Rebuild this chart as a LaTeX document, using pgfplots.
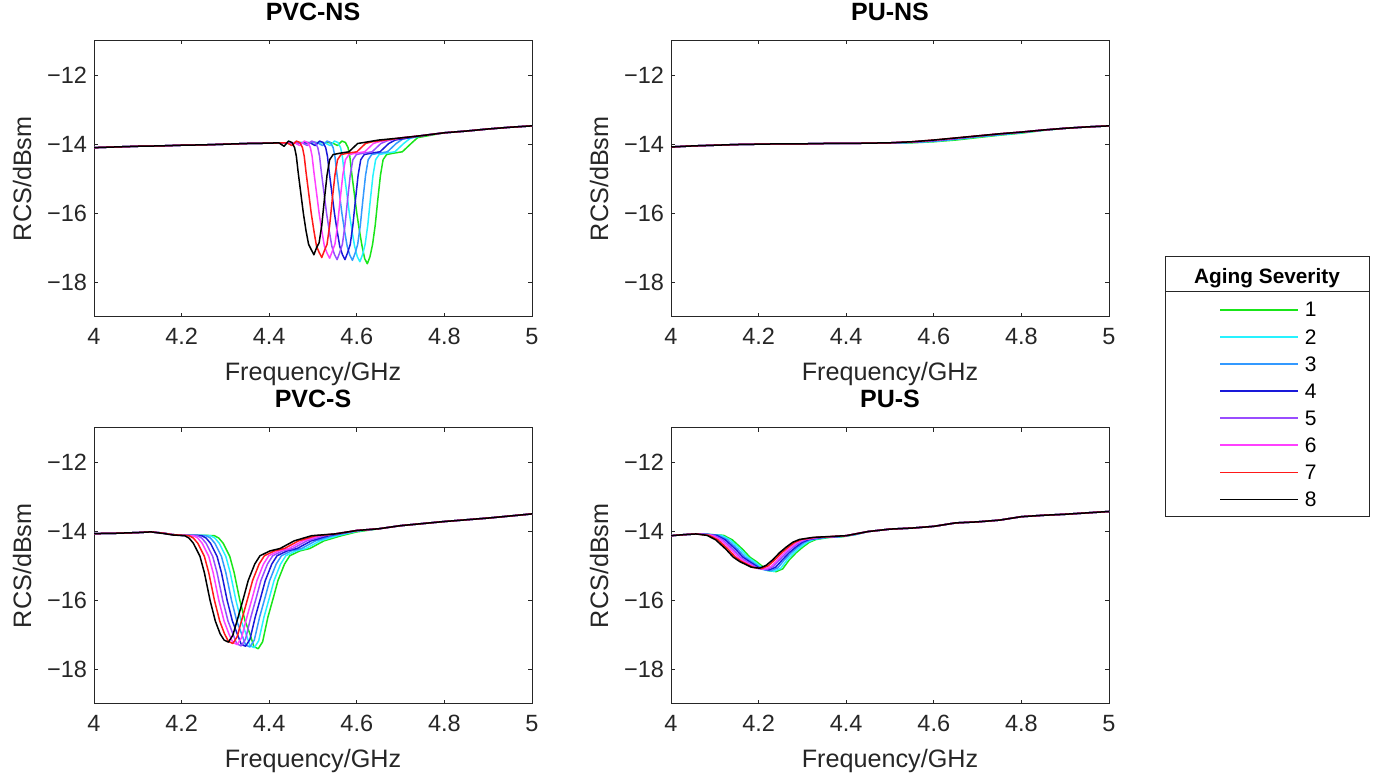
\documentclass[border=0pt]{standalone}
\usepackage{fontspec}
\setmainfont{Liberation Sans}
\usepackage{pgfplots}
\usepackage{pgfplotstable}
\pgfplotsset{compat=1.18}
\definecolor{axgray}{rgb}{0.15,0.15,0.15}
\definecolor{c1}{rgb}{0.1,0.9,0.1}
\definecolor{c2}{rgb}{0.15,0.95,1}
\definecolor{c3}{rgb}{0.2,0.6,1}
\definecolor{c4}{rgb}{0.1,0.1,0.85}
\definecolor{c5}{rgb}{0.6,0.3,1}
\definecolor{c6}{rgb}{1,0.25,1}
\definecolor{c7}{rgb}{1,0.1,0.1}
\definecolor{c8}{rgb}{0,0,0}
\pgfplotsset{
  rcs/.style={
    scale only axis, width=219pt, height=138.25pt, anchor=south west,
    xmin=4, xmax=5, ymin=-19, ymax=-11,
    xtick={4,4.2,4.4,4.6,4.8,5}, xticklabels={4,4.2,4.4,4.6,4.8,5},
    ytick={-18,-16,-14,-12}, yticklabels={−18,−16,−14,−12},
    tick align=inside, major tick length=2pt,
    axis line style={draw=axgray, line width=0.5pt},
    major tick style={draw=axgray, line width=0.5pt},
    tick label style={font=\fontsize{11.75}{14}\selectfont, text=axgray},
    xticklabel style={anchor=base, yshift=-14pt},
    xlabel={Frequency/GHz}, ylabel={RCS/dBsm},
    label style={font=\fontsize{12.6}{15}\selectfont, text=axgray},
    xlabel style={at={(axis description cs:0.5,-0.228)}, anchor=base},
    ylabel style={at={(axis description cs:-0.164,0.5)}, anchor=center},
    title style={font=\bfseries\fontsize{12.5}{15}\selectfont, at={(axis description cs:0.5,1)}, anchor=base, yshift=3.8pt},
    cycle list={{c1},{c2},{c3},{c4},{c5},{c6},{c7},{c8}},
    no markers,
    every axis plot/.append style={line width=0.75pt, line join=round},
  }
}
\pgfplotstableread{
x y1 y2 y3 y4 y5 y6 y7 y8
4.00 -14.08 -14.08 -14.08 -14.08 -14.08 -14.08 -14.08 -14.08
4.05 -14.05 -14.05 -14.05 -14.05 -14.05 -14.05 -14.05 -14.05
4.10 -14.03 -14.03 -14.03 -14.03 -14.03 -14.03 -14.03 -14.03
4.15 -14.01 -14.01 -14.01 -14.01 -14.01 -14.01 -14.01 -14.01
4.20 -14.00 -14.00 -14.00 -14.00 -14.00 -14.00 -14.00 -14.00
4.25 -13.99 -13.99 -13.99 -13.99 -13.99 -13.99 -13.99 -13.99
4.30 -13.99 -13.99 -13.99 -13.99 -13.99 -13.99 -13.99 -13.99
4.35 -13.98 -13.98 -13.98 -13.98 -13.98 -13.98 -13.98 -13.98
4.40 -13.97 -13.97 -13.98 -13.98 -13.98 -13.98 -13.98 -13.98
4.45 -13.97 -13.97 -13.97 -13.97 -13.97 -13.97 -13.97 -13.97
4.50 -13.97 -13.97 -13.96 -13.96 -13.96 -13.96 -13.96 -13.96
4.55 -13.96 -13.95 -13.95 -13.94 -13.94 -13.93 -13.93 -13.93
4.60 -13.93 -13.92 -13.91 -13.90 -13.89 -13.89 -13.88 -13.88
4.65 -13.88 -13.86 -13.85 -13.84 -13.83 -13.83 -13.82 -13.82
4.70 -13.81 -13.79 -13.78 -13.77 -13.77 -13.76 -13.76 -13.76
4.75 -13.74 -13.73 -13.72 -13.71 -13.70 -13.70 -13.70 -13.70
4.80 -13.68 -13.67 -13.66 -13.65 -13.65 -13.65 -13.65 -13.65
4.85 -13.60 -13.60 -13.59 -13.59 -13.59 -13.59 -13.59 -13.59
4.90 -13.54 -13.54 -13.54 -13.54 -13.54 -13.54 -13.54 -13.54
4.95 -13.50 -13.50 -13.50 -13.50 -13.50 -13.50 -13.50 -13.50
5.00 -13.47 -13.47 -13.47 -13.47 -13.47 -13.47 -13.47 -13.47
}\punstable
\begin{document}
\begin{tikzpicture}
\useasboundingbox (0,0) rectangle (688pt,387.5pt);
% ---------------- PVC-NS ----------------
\begin{axis}[rcs, at={(47pt,229pt)}, title={PVC-NS}]
\addplot coordinates {(4.00,-14.10)(4.05,-14.08)(4.10,-14.06)(4.15,-14.05)(4.20,-14.03)(4.25,-14.02)(4.30,-14.00)(4.35,-13.98)(4.40,-13.97)(4.45,-13.96)(4.50,-13.95)
(4.544,-13.96)(4.556,-14.04)(4.566,-13.91)(4.574,-13.95)(4.580,-14.10)(4.584,-14.35)(4.588,-14.80)(4.594,-15.40)(4.600,-16.00)(4.606,-16.50)(4.612,-16.95)(4.618,-17.31)(4.624,-17.46)(4.630,-17.26)(4.636,-16.90)(4.642,-16.35)(4.648,-15.60)(4.654,-14.90)(4.660,-14.45)(4.668,-14.30)(4.684,-14.26)(4.704,-14.22)(4.714,-14.10)(4.724,-13.98)(4.739,-13.81)
(4.80,-13.67)(4.85,-13.62)(4.90,-13.56)(4.95,-13.51)(5.00,-13.47)};
\addplot coordinates {(4.00,-14.10)(4.05,-14.08)(4.10,-14.06)(4.15,-14.05)(4.20,-14.03)(4.25,-14.02)(4.30,-14.00)(4.35,-13.98)(4.40,-13.97)(4.45,-13.96)(4.50,-13.95)
(4.527,-13.96)(4.539,-14.04)(4.549,-13.91)(4.557,-13.95)(4.563,-14.10)(4.567,-14.35)(4.571,-14.80)(4.577,-15.40)(4.583,-16.00)(4.589,-16.50)(4.595,-16.95)(4.601,-17.25)(4.607,-17.40)(4.613,-17.20)(4.619,-16.90)(4.625,-16.35)(4.631,-15.60)(4.637,-14.90)(4.643,-14.45)(4.651,-14.30)(4.667,-14.26)(4.687,-14.22)(4.697,-14.10)(4.707,-13.98)(4.722,-13.83)
(4.75,-13.75)(4.80,-13.67)(4.85,-13.62)(4.90,-13.56)(4.95,-13.51)(5.00,-13.47)};
\addplot coordinates {(4.00,-14.10)(4.05,-14.08)(4.10,-14.06)(4.15,-14.05)(4.20,-14.03)(4.25,-14.02)(4.30,-14.00)(4.35,-13.98)(4.40,-13.97)(4.45,-13.96)(4.50,-13.95)
(4.510,-13.96)(4.522,-14.04)(4.532,-13.91)(4.540,-13.95)(4.546,-14.10)(4.550,-14.35)(4.554,-14.80)(4.560,-15.40)(4.566,-16.00)(4.572,-16.50)(4.578,-16.95)(4.584,-17.21)(4.590,-17.36)(4.596,-17.16)(4.602,-16.90)(4.608,-16.35)(4.614,-15.60)(4.620,-14.90)(4.626,-14.45)(4.634,-14.30)(4.650,-14.26)(4.670,-14.22)(4.680,-14.10)(4.690,-13.98)(4.705,-13.85)
(4.75,-13.75)(4.80,-13.67)(4.85,-13.62)(4.90,-13.56)(4.95,-13.51)(5.00,-13.47)};
\addplot coordinates {(4.00,-14.10)(4.05,-14.08)(4.10,-14.06)(4.15,-14.05)(4.20,-14.03)(4.25,-14.02)(4.30,-14.00)(4.35,-13.98)(4.40,-13.97)(4.45,-13.96)
(4.493,-13.96)(4.505,-14.04)(4.515,-13.91)(4.523,-13.95)(4.529,-14.10)(4.533,-14.35)(4.537,-14.80)(4.543,-15.40)(4.549,-16.00)(4.555,-16.50)(4.561,-16.95)(4.567,-17.19)(4.573,-17.34)(4.579,-17.14)(4.585,-16.90)(4.591,-16.35)(4.597,-15.60)(4.603,-14.90)(4.609,-14.45)(4.617,-14.30)(4.633,-14.26)(4.653,-14.22)(4.663,-14.10)(4.673,-13.98)(4.688,-13.88)
(4.75,-13.75)(4.80,-13.67)(4.85,-13.62)(4.90,-13.56)(4.95,-13.51)(5.00,-13.47)};
\addplot coordinates {(4.00,-14.10)(4.05,-14.08)(4.10,-14.06)(4.15,-14.05)(4.20,-14.03)(4.25,-14.02)(4.30,-14.00)(4.35,-13.98)(4.40,-13.97)(4.45,-13.96)
(4.475,-13.96)(4.487,-14.04)(4.497,-13.91)(4.505,-13.95)(4.511,-14.10)(4.515,-14.35)(4.519,-14.80)(4.525,-15.40)(4.531,-16.00)(4.537,-16.50)(4.543,-16.95)(4.549,-17.19)(4.555,-17.34)(4.561,-17.14)(4.567,-16.90)(4.573,-16.35)(4.579,-15.60)(4.585,-14.90)(4.591,-14.45)(4.599,-14.30)(4.615,-14.26)(4.635,-14.22)(4.645,-14.10)(4.655,-13.98)(4.670,-13.90)
(4.70,-13.82)(4.75,-13.75)(4.80,-13.67)(4.85,-13.62)(4.90,-13.56)(4.95,-13.51)(5.00,-13.47)};
\addplot coordinates {(4.00,-14.10)(4.05,-14.08)(4.10,-14.06)(4.15,-14.05)(4.20,-14.03)(4.25,-14.02)(4.30,-14.00)(4.35,-13.98)(4.40,-13.97)
(4.458,-13.96)(4.470,-14.04)(4.480,-13.91)(4.488,-13.95)(4.494,-14.10)(4.498,-14.35)(4.502,-14.80)(4.508,-15.40)(4.514,-16.00)(4.520,-16.50)(4.526,-16.95)(4.532,-17.15)(4.538,-17.30)(4.544,-17.10)(4.550,-16.90)(4.556,-16.35)(4.562,-15.60)(4.568,-14.90)(4.574,-14.45)(4.582,-14.30)(4.598,-14.26)(4.618,-14.22)(4.628,-14.10)(4.638,-13.98)(4.653,-13.92)
(4.70,-13.82)(4.75,-13.75)(4.80,-13.67)(4.85,-13.62)(4.90,-13.56)(4.95,-13.51)(5.00,-13.47)};
\addplot coordinates {(4.00,-14.10)(4.05,-14.08)(4.10,-14.06)(4.15,-14.05)(4.20,-14.03)(4.25,-14.02)(4.30,-14.00)(4.35,-13.98)(4.40,-13.97)
(4.440,-13.96)(4.452,-14.04)(4.462,-13.91)(4.470,-13.95)(4.476,-14.10)(4.480,-14.35)(4.484,-14.80)(4.490,-15.40)(4.496,-16.00)(4.502,-16.50)(4.508,-16.95)(4.514,-17.13)(4.520,-17.28)(4.526,-17.08)(4.532,-16.90)(4.538,-16.35)(4.544,-15.60)(4.550,-14.90)(4.556,-14.45)(4.564,-14.30)(4.580,-14.26)(4.600,-14.22)(4.610,-14.10)(4.620,-13.98)(4.635,-13.93)
(4.70,-13.82)(4.75,-13.75)(4.80,-13.67)(4.85,-13.62)(4.90,-13.56)(4.95,-13.51)(5.00,-13.47)};
\addplot coordinates {(4.00,-14.10)(4.05,-14.08)(4.10,-14.06)(4.15,-14.05)(4.20,-14.03)(4.25,-14.02)(4.30,-14.00)(4.35,-13.98)(4.40,-13.97)
(4.422,-13.96)(4.434,-14.06)(4.444,-13.91)(4.452,-13.95)(4.458,-14.10)(4.462,-14.35)(4.466,-14.80)(4.472,-15.40)(4.478,-16.00)(4.484,-16.50)(4.490,-16.90)(4.496,-17.05)(4.502,-17.20)(4.508,-17.00)(4.514,-16.85)(4.520,-16.35)(4.526,-15.60)(4.532,-14.90)(4.538,-14.45)(4.546,-14.30)(4.562,-14.26)(4.582,-14.22)(4.592,-14.10)(4.602,-13.98)(4.617,-13.95)
(4.65,-13.88)(4.70,-13.82)(4.75,-13.75)(4.80,-13.67)(4.85,-13.62)(4.90,-13.56)(4.95,-13.51)(5.00,-13.47)};
\end{axis}
% ---------------- PU-NS ----------------
\begin{axis}[rcs, at={(335.5pt,229pt)}, title={PU-NS}]
\addplot table[x=x, y=y1] {\punstable};
\addplot table[x=x, y=y2] {\punstable};
\addplot table[x=x, y=y3] {\punstable};
\addplot table[x=x, y=y4] {\punstable};
\addplot table[x=x, y=y5] {\punstable};
\addplot table[x=x, y=y6] {\punstable};
\addplot table[x=x, y=y7] {\punstable};
\addplot table[x=x, y=y8] {\punstable};
\end{axis}
% ---------------- PVC-S ----------------
\begin{axis}[rcs, at={(47pt,35.5pt)}, title={PVC-S}]
\addplot coordinates {(4.00,-14.07)(4.05,-14.06)(4.10,-14.04)(4.13,-14.02)(4.16,-14.06)(4.18,-14.10)(4.20,-14.12)(4.25,-14.12)
(4.275,-14.13)(4.285,-14.20)(4.295,-14.35)(4.310,-14.73)(4.320,-15.20)(4.333,-16.00)(4.345,-16.60)(4.356,-16.97)(4.365,-17.34)(4.375,-17.40)(4.385,-17.20)(4.397,-16.49)(4.410,-15.90)(4.420,-15.43)(4.435,-14.95)(4.447,-14.71)(4.470,-14.57)(4.493,-14.50)(4.525,-14.28)(4.565,-14.13)
(4.60,-14.02)(4.65,-13.93)(4.70,-13.84)(4.75,-13.78)(4.80,-13.72)(4.85,-13.67)(4.90,-13.62)(4.95,-13.56)(5.00,-13.50)};
\addplot coordinates {(4.00,-14.07)(4.05,-14.06)(4.10,-14.04)(4.13,-14.02)(4.16,-14.06)(4.18,-14.10)(4.20,-14.12)(4.24,-14.12)
(4.266,-14.13)(4.276,-14.20)(4.286,-14.35)(4.301,-14.73)(4.311,-15.20)(4.324,-16.00)(4.336,-16.60)(4.347,-16.97)(4.356,-17.31)(4.366,-17.37)(4.376,-17.17)(4.388,-16.49)(4.401,-15.90)(4.411,-15.43)(4.426,-14.95)(4.438,-14.71)(4.461,-14.57)(4.484,-14.50)(4.516,-14.28)(4.556,-14.13)
(4.60,-14.00)(4.65,-13.93)(4.70,-13.84)(4.75,-13.78)(4.80,-13.72)(4.85,-13.67)(4.90,-13.62)(4.95,-13.56)(5.00,-13.50)};
\addplot coordinates {(4.00,-14.07)(4.05,-14.06)(4.10,-14.04)(4.13,-14.02)(4.16,-14.06)(4.18,-14.10)(4.20,-14.12)(4.23,-14.12)
(4.256,-14.13)(4.266,-14.20)(4.276,-14.35)(4.291,-14.73)(4.301,-15.20)(4.314,-16.00)(4.326,-16.60)(4.337,-16.97)(4.346,-17.29)(4.356,-17.35)(4.366,-17.15)(4.378,-16.49)(4.391,-15.90)(4.401,-15.43)(4.416,-14.95)(4.428,-14.71)(4.451,-14.57)(4.474,-14.50)(4.506,-14.28)(4.546,-14.13)
(4.60,-13.99)(4.65,-13.93)(4.70,-13.84)(4.75,-13.78)(4.80,-13.72)(4.85,-13.67)(4.90,-13.62)(4.95,-13.56)(5.00,-13.50)};
\addplot coordinates {(4.00,-14.07)(4.05,-14.06)(4.10,-14.04)(4.13,-14.02)(4.16,-14.06)(4.18,-14.10)(4.20,-14.12)(4.23,-14.12)
(4.246,-14.13)(4.256,-14.20)(4.266,-14.35)(4.281,-14.73)(4.291,-15.20)(4.304,-16.00)(4.316,-16.60)(4.327,-16.97)(4.336,-17.27)(4.346,-17.33)(4.356,-17.13)(4.368,-16.49)(4.381,-15.90)(4.391,-15.43)(4.406,-14.95)(4.418,-14.71)(4.441,-14.57)(4.464,-14.50)(4.496,-14.28)(4.536,-14.13)
(4.60,-13.98)(4.65,-13.93)(4.70,-13.84)(4.75,-13.78)(4.80,-13.72)(4.85,-13.67)(4.90,-13.62)(4.95,-13.56)(5.00,-13.50)};
\addplot coordinates {(4.00,-14.07)(4.05,-14.06)(4.10,-14.04)(4.13,-14.02)(4.16,-14.06)(4.18,-14.10)(4.20,-14.12)
(4.236,-14.13)(4.246,-14.20)(4.256,-14.35)(4.271,-14.73)(4.281,-15.20)(4.294,-16.00)(4.306,-16.60)(4.317,-16.97)(4.326,-17.26)(4.336,-17.32)(4.346,-17.12)(4.358,-16.49)(4.371,-15.90)(4.381,-15.43)(4.396,-14.95)(4.408,-14.71)(4.431,-14.57)(4.454,-14.50)(4.486,-14.28)(4.526,-14.13)
(4.55,-14.08)(4.60,-13.98)(4.65,-13.93)(4.70,-13.84)(4.75,-13.78)(4.80,-13.72)(4.85,-13.67)(4.90,-13.62)(4.95,-13.56)(5.00,-13.50)};
\addplot coordinates {(4.00,-14.07)(4.05,-14.06)(4.10,-14.04)(4.13,-14.02)(4.16,-14.06)(4.18,-14.10)(4.20,-14.12)
(4.227,-14.13)(4.237,-14.20)(4.247,-14.35)(4.262,-14.73)(4.272,-15.20)(4.285,-16.00)(4.297,-16.60)(4.308,-16.97)(4.317,-17.22)(4.327,-17.28)(4.337,-17.08)(4.349,-16.49)(4.362,-15.90)(4.372,-15.43)(4.387,-14.95)(4.399,-14.71)(4.422,-14.57)(4.445,-14.50)(4.477,-14.28)(4.517,-14.13)
(4.55,-14.08)(4.60,-13.98)(4.65,-13.93)(4.70,-13.84)(4.75,-13.78)(4.80,-13.72)(4.85,-13.67)(4.90,-13.62)(4.95,-13.56)(5.00,-13.50)};
\addplot coordinates {(4.00,-14.07)(4.05,-14.06)(4.10,-14.04)(4.13,-14.02)(4.16,-14.06)(4.18,-14.10)
(4.217,-14.13)(4.227,-14.20)(4.237,-14.35)(4.252,-14.73)(4.262,-15.20)(4.275,-16.00)(4.287,-16.60)(4.298,-16.97)(4.307,-17.19)(4.317,-17.25)(4.327,-17.05)(4.339,-16.49)(4.352,-15.90)(4.362,-15.43)(4.377,-14.95)(4.389,-14.71)(4.412,-14.57)(4.435,-14.50)(4.467,-14.28)(4.507,-14.13)
(4.55,-14.08)(4.60,-13.98)(4.65,-13.93)(4.70,-13.84)(4.75,-13.78)(4.80,-13.72)(4.85,-13.67)(4.90,-13.62)(4.95,-13.56)(5.00,-13.50)};
\addplot coordinates {(4.00,-14.07)(4.05,-14.06)(4.10,-14.04)(4.13,-14.02)(4.16,-14.07)(4.18,-14.11)
(4.207,-14.13)(4.217,-14.20)(4.227,-14.35)(4.242,-14.73)(4.252,-15.20)(4.265,-16.00)(4.277,-16.60)(4.288,-16.97)(4.297,-17.15)(4.307,-17.21)(4.317,-17.01)(4.329,-16.49)(4.342,-15.90)(4.352,-15.43)(4.367,-14.95)(4.379,-14.71)(4.402,-14.57)(4.425,-14.50)(4.457,-14.28)(4.497,-14.13)
(4.55,-14.08)(4.60,-13.98)(4.65,-13.93)(4.70,-13.84)(4.75,-13.78)(4.80,-13.72)(4.85,-13.67)(4.90,-13.62)(4.95,-13.56)(5.00,-13.50)};
\end{axis}
% ---------------- PU-S ----------------
\begin{axis}[rcs, at={(335.5pt,35.5pt)}, title={PU-S},
  legend entries={1,2,3,4,5,6,7,8},
  legend cell align=left,
  legend image code/.code={\draw[#1, line width=0.8pt] (0pt,0pt) -- (39pt,0pt);},
  legend style={at={(axis description cs:1.2511,1.4763)}, anchor=north west, draw=none, fill=none,
    inner sep=0pt, row sep=0pt, column sep=0pt, font=\fontsize{10.5}{12}\selectfont,
    nodes={inner xsep=3pt, inner ysep=0pt, minimum height=13.55pt, text depth=0pt}}]
\addplot coordinates {(4.000,-14.13)(4.030,-14.10)(4.057,-14.08)(4.080,-14.09)
(4.120,-14.12)(4.140,-14.25)(4.164,-14.53)(4.180,-14.75)(4.195,-14.88)(4.221,-15.14)(4.240,-15.17)(4.255,-15.09)(4.270,-14.83)(4.286,-14.62)(4.301,-14.46)(4.316,-14.32)(4.331,-14.24)(4.362,-14.18)(4.392,-14.16)
(4.42,-14.10)(4.45,-14.01)(4.50,-13.94)(4.55,-13.91)(4.60,-13.86)(4.65,-13.76)(4.70,-13.73)(4.75,-13.68)(4.80,-13.58)(4.85,-13.54)(4.90,-13.51)(4.95,-13.47)(5.00,-13.43)};
\addplot coordinates {(4.000,-14.13)(4.030,-14.10)(4.057,-14.08)(4.080,-14.09)
(4.115,-14.12)(4.135,-14.25)(4.159,-14.53)(4.175,-14.75)(4.190,-14.88)(4.216,-15.13)(4.235,-15.16)(4.250,-15.08)(4.265,-14.83)(4.281,-14.62)(4.296,-14.46)(4.311,-14.32)(4.326,-14.24)(4.357,-14.18)(4.387,-14.16)
(4.42,-14.10)(4.45,-14.01)(4.50,-13.94)(4.55,-13.91)(4.60,-13.86)(4.65,-13.76)(4.70,-13.73)(4.75,-13.68)(4.80,-13.58)(4.85,-13.54)(4.90,-13.51)(4.95,-13.47)(5.00,-13.43)};
\addplot coordinates {(4.000,-14.13)(4.030,-14.10)(4.057,-14.08)(4.080,-14.09)
(4.109,-14.12)(4.129,-14.25)(4.153,-14.53)(4.169,-14.75)(4.184,-14.88)(4.210,-15.11)(4.229,-15.14)(4.244,-15.06)(4.259,-14.83)(4.275,-14.62)(4.290,-14.46)(4.305,-14.32)(4.320,-14.24)(4.351,-14.18)(4.381,-14.16)
(4.42,-14.10)(4.45,-14.01)(4.50,-13.94)(4.55,-13.91)(4.60,-13.86)(4.65,-13.76)(4.70,-13.73)(4.75,-13.68)(4.80,-13.58)(4.85,-13.54)(4.90,-13.51)(4.95,-13.47)(5.00,-13.43)};
\addplot coordinates {(4.000,-14.13)(4.030,-14.10)(4.057,-14.08)(4.080,-14.09)
(4.104,-14.12)(4.124,-14.25)(4.148,-14.53)(4.164,-14.75)(4.179,-14.88)(4.205,-15.09)(4.224,-15.12)(4.239,-15.04)(4.254,-14.83)(4.270,-14.62)(4.285,-14.46)(4.300,-14.32)(4.315,-14.24)(4.346,-14.18)(4.376,-14.16)
(4.40,-14.13)(4.45,-14.01)(4.50,-13.94)(4.55,-13.91)(4.60,-13.86)(4.65,-13.76)(4.70,-13.73)(4.75,-13.68)(4.80,-13.58)(4.85,-13.54)(4.90,-13.51)(4.95,-13.47)(5.00,-13.43)};
\addplot coordinates {(4.000,-14.13)(4.030,-14.10)(4.057,-14.08)(4.080,-14.09)
(4.098,-14.12)(4.118,-14.25)(4.142,-14.53)(4.158,-14.75)(4.173,-14.88)(4.199,-15.08)(4.218,-15.11)(4.233,-15.03)(4.248,-14.83)(4.264,-14.62)(4.279,-14.46)(4.294,-14.32)(4.309,-14.24)(4.340,-14.18)(4.370,-14.16)
(4.40,-14.13)(4.45,-14.01)(4.50,-13.94)(4.55,-13.91)(4.60,-13.86)(4.65,-13.76)(4.70,-13.73)(4.75,-13.68)(4.80,-13.58)(4.85,-13.54)(4.90,-13.51)(4.95,-13.47)(5.00,-13.43)};
\addplot coordinates {(4.000,-14.13)(4.030,-14.10)(4.057,-14.08)
(4.093,-14.12)(4.113,-14.25)(4.137,-14.53)(4.153,-14.75)(4.168,-14.88)(4.194,-15.07)(4.213,-15.10)(4.228,-15.02)(4.243,-14.83)(4.259,-14.62)(4.274,-14.46)(4.289,-14.32)(4.304,-14.24)(4.335,-14.18)(4.365,-14.16)
(4.40,-14.13)(4.45,-14.01)(4.50,-13.94)(4.55,-13.91)(4.60,-13.86)(4.65,-13.76)(4.70,-13.73)(4.75,-13.68)(4.80,-13.58)(4.85,-13.54)(4.90,-13.51)(4.95,-13.47)(5.00,-13.43)};
\addplot coordinates {(4.000,-14.13)(4.030,-14.10)(4.057,-14.08)
(4.087,-14.12)(4.107,-14.25)(4.131,-14.53)(4.147,-14.75)(4.162,-14.88)(4.188,-15.05)(4.207,-15.08)(4.222,-15.00)(4.237,-14.83)(4.253,-14.62)(4.268,-14.46)(4.283,-14.32)(4.298,-14.24)(4.329,-14.18)(4.359,-14.16)
(4.40,-14.13)(4.45,-14.01)(4.50,-13.94)(4.55,-13.91)(4.60,-13.86)(4.65,-13.76)(4.70,-13.73)(4.75,-13.68)(4.80,-13.58)(4.85,-13.54)(4.90,-13.51)(4.95,-13.47)(5.00,-13.43)};
\addplot coordinates {(4.000,-14.13)(4.030,-14.10)(4.057,-14.08)
(4.082,-14.12)(4.102,-14.25)(4.126,-14.53)(4.142,-14.75)(4.157,-14.88)(4.183,-15.04)(4.202,-15.07)(4.217,-14.99)(4.232,-14.83)(4.248,-14.62)(4.263,-14.46)(4.278,-14.32)(4.293,-14.24)(4.324,-14.18)(4.354,-14.16)
(4.40,-14.13)(4.45,-14.01)(4.50,-13.94)(4.55,-13.91)(4.60,-13.86)(4.65,-13.76)(4.70,-13.73)(4.75,-13.68)(4.80,-13.58)(4.85,-13.54)(4.90,-13.51)(4.95,-13.47)(5.00,-13.43)};
\end{axis}
% legend frame and title
\draw[axgray, line width=0.5pt] (582.5pt,129pt) rectangle (684.5pt,259pt);
\draw[axgray, line width=0.5pt] (582.5pt,241.5pt) -- (684.5pt,241.5pt);
\node[anchor=base, font=\bfseries\fontsize{10.4}{12}\selectfont, inner sep=0pt] at (633.5pt,245.8pt) {Aging Severity};
\end{tikzpicture}
\end{document}
